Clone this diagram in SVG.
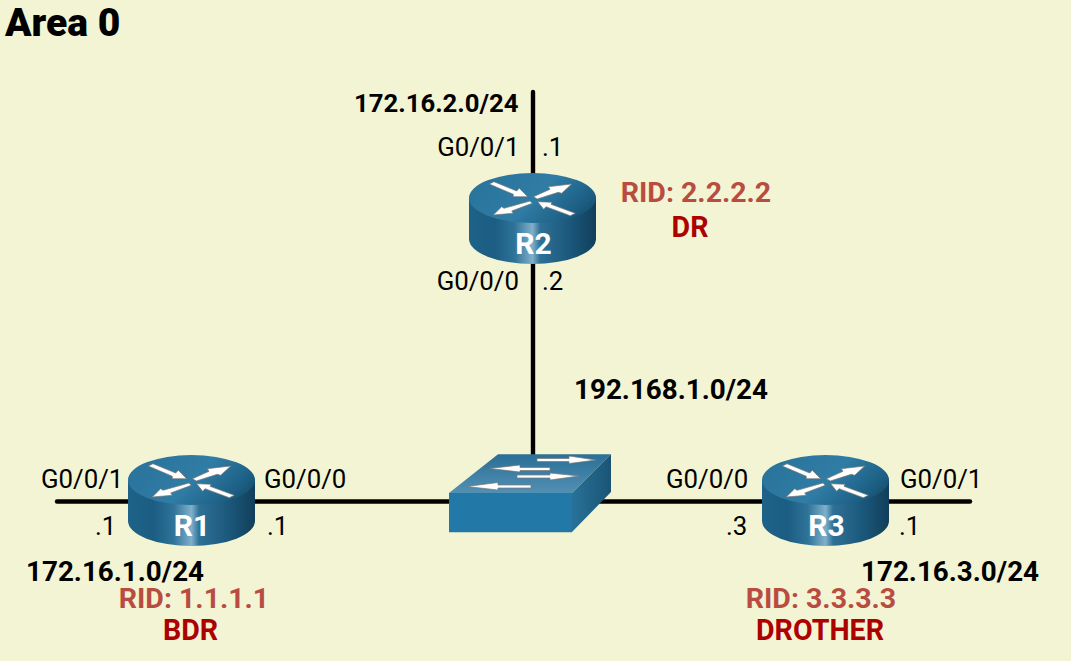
<svg xmlns="http://www.w3.org/2000/svg" width="1071" height="661" viewBox="0 0 1071 661">
<style>
text{font-family:Roboto,"Liberation Sans",sans-serif;font-size:25.8px;fill:#000}
.b{font-weight:700;font-size:27.8px}
.s{font-size:25.7px}
.t{font-weight:900;font-size:39px}
.rid{font-weight:700;fill:#b94c40;font-size:28.5px}
.role{font-weight:700;fill:#ad0000;font-size:28.6px}
.rn{font-weight:700;fill:#fff;font-size:30px;text-anchor:middle}
.m{text-anchor:middle}.e{text-anchor:end}
.w{fill:#fff;stroke:#777;stroke-width:.7;stroke-linejoin:round}
.c{stroke:#000;stroke-width:4.4;fill:none;stroke-linecap:round}
</style>
<defs>
<linearGradient id="body" x1="0" x2="1" y1="0" y2="0">
<stop offset="0" stop-color="#1f6288"/><stop offset=".2" stop-color="#1b5d83"/><stop offset=".36" stop-color="#2f7399"/><stop offset=".5" stop-color="#7fb0ca"/><stop offset=".56" stop-color="#2f7096"/><stop offset=".8" stop-color="#1a577a"/><stop offset="1" stop-color="#123f5a"/>
</linearGradient>
<linearGradient id="top" x1="0" x2="1" y1=".35" y2=".75">
<stop offset="0" stop-color="#2a749c"/><stop offset=".5" stop-color="#2f7ca5"/><stop offset=".85" stop-color="#1d5f84"/><stop offset="1" stop-color="#144d6c"/>
</linearGradient>
<linearGradient id="stop" x1="0" x2="0" y1="0" y2="1">
<stop offset="0" stop-color="#2a6f96"/><stop offset="1" stop-color="#5290b3"/>
</linearGradient>
<linearGradient id="sright" x1="0" x2="1" y1="0" y2="0">
<stop offset="0" stop-color="#287299"/><stop offset="1" stop-color="#1a5474"/>
</linearGradient>
<g id="router">
<path d="M-63.5 0V41A63.5 25 0 0 0 63.5 41V0Z" fill="url(#body)"/>
<ellipse rx="63.5" ry="25" fill="url(#top)"/>
<polygon class="w" points="-38.5,-16.3 -15.8,-7 -13.2,-9.7 -4.8,-1.3 -19.2,-1.3 -19.2,-3.7 -43.2,-14"/>
<polygon class="w" points="1,-1.3 17.5,-8.7 15.8,-11.3 39.2,-14 29.2,-4.7 25.8,-5.7 4.8,1"/>
<polygon class="w" points="-39.2,17 -30.8,8.7 -28.5,10.3 -2.5,3 -.2,5.3 -20.8,13 -19.2,15.3"/>
<polygon class="w" points="5.2,3.7 19.5,4.3 18.5,6.3 42.8,15.3 37.8,17.7 13.5,8.7 11.2,11.3"/>
</g>
</defs>
<rect width="1071" height="661" fill="#f3f4d3"/>
<text class="t" x="5" y="36">Area 0</text>
<g id="connectors">
<path class="c" d="M533 92V456"/>
<path class="c" d="M57 501.5H970"/>
</g>
<g id="R2"><use href="#router" x="532.5" y="198"/><text class="rn" x="533.5" y="254">R2</text></g>
<g id="R1"><use href="#router" x="191.5" y="480"/><text class="rn" x="192" y="536">R1</text></g>
<g id="R3"><use href="#router" x="825.5" y="480"/><text class="rn" x="826.5" y="536">R3</text></g>
<g id="switch">
<polygon points="449,493 498,454.3 611,454.3 572,493" fill="url(#stop)"/>
<polygon points="572,493 611,454.3 611,492 572,532" fill="url(#sright)"/>
<polygon points="449,493 572,493 572,532.3 449,532.3" fill="#2279a8"/>
<polygon class="w" points="537,458.5 569,458.5 569,456 596,460 569,463.5 569,461.5 537,461.5"/>
<polygon class="w" points="550,467.5 520,467.5 520,465 489.5,468.5 520,472 520,470.5 550,470.5"/>
<polygon class="w" points="517,475 550,475 550,473 579,476 550,480 550,478 517,478"/>
<polygon class="w" points="531,485 498,485 498,482.5 467,486.5 498,490 498,488 531,488"/>
</g>
<g id="labels">
<text class="b s" x="354" y="112">172.16.2.0/24</text>
<text class="e" x="519.5" y="156">G0/0/1</text>
<text x="542" y="156">.1</text>
<text class="e" x="519" y="290">G0/0/0</text>
<text x="542" y="290">.2</text>
<text class="b" x="574" y="399">192.168.1.0/24</text>
<text class="rid m" x="696" y="202">RID: 2.2.2.2</text>
<text class="role m" x="690" y="237">DR</text>
<text x="41" y="488">G0/0/1</text>
<text x="264" y="488">G0/0/0</text>
<text x="95" y="535">.1</text>
<text x="267" y="535">.1</text>
<text class="b" x="26" y="581">172.16.1.0/24</text>
<text class="rid m" x="194" y="608">RID: 1.1.1.1</text>
<text class="role m" x="190.5" y="640">BDR</text>
<text x="666" y="488">G0/0/0</text>
<text x="900" y="488">G0/0/1</text>
<text x="726" y="535">.3</text>
<text x="899" y="535">.1</text>
<text class="b" x="861" y="581">172.16.3.0/24</text>
<text class="rid m" x="821" y="608">RID: 3.3.3.3</text>
<text class="role m" x="820" y="640">DROTHER</text>
</g>
</svg>
